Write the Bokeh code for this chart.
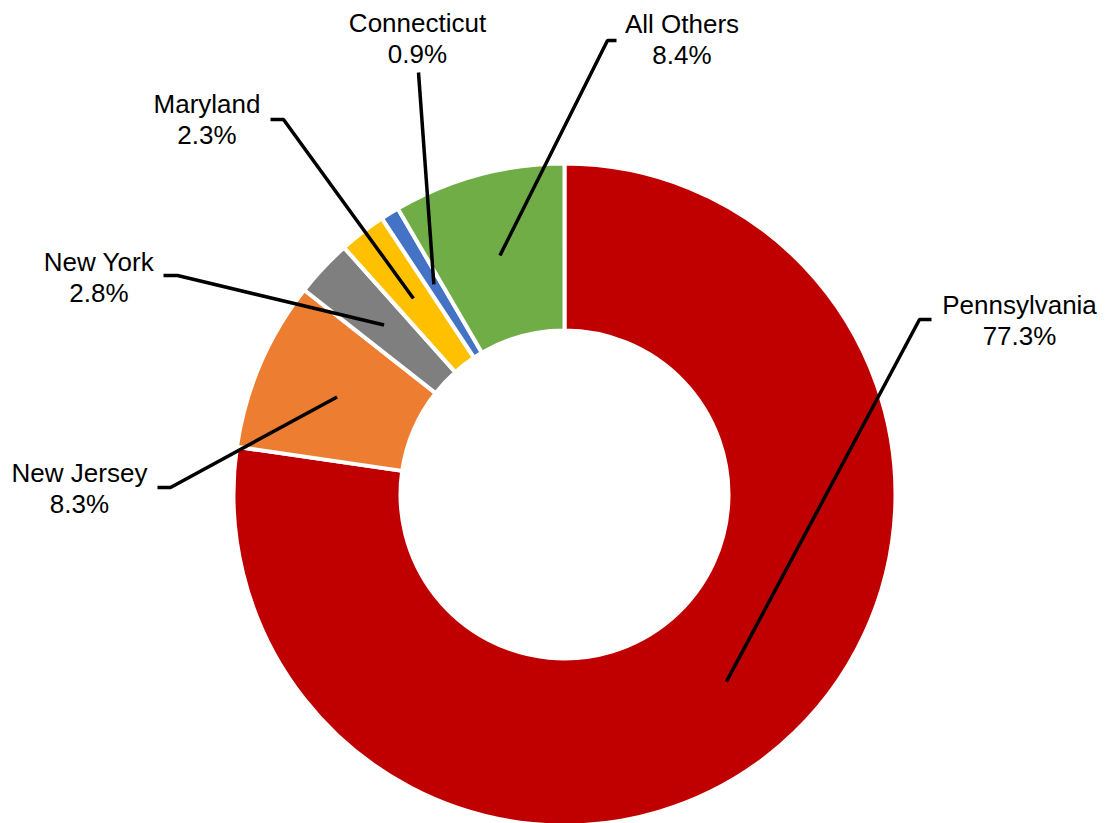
import math
from bokeh.plotting import figure
from bokeh.models import Range1d, ColumnDataSource
from bokeh.core.properties import value
from bokeh.embed import file_html
from bokeh.resources import INLINE

# ---- data ----
states = ["Pennsylvania", "New Jersey", "New York", "Maryland", "Connecticut", "All Others"]
shares = [77.3, 8.3, 2.8, 2.3, 0.9, 8.4]
colors = ["#C00000", "#ED7D31", "#7F7F7F", "#FFC000", "#4472C4", "#70AD47"]

# ---- layout (screen pixel coordinates of the page) ----
W, H = 1106, 823
CX, CY = 564, 494          # donut centre
R_OUT, R_IN = 331, 164
# label centre x, name baseline y, leader elbow (x, y), leader end (x, y)
lab_x = [1019, 79, 98.5, 206.5, 417, 681.5]
lab_y = [304, 472, 261, 103, 22, 23]
elbow = [(919, 319), (170, 487), (177, 275), (283, 119), (418, 72), (607, 40)]
lend = [(931, 319), (157, 487), (163, 275), (270, 119), (418, 72), (616, 40)]
LINE_GAP = 31


def dy(sy):
    return H - sy


p = figure(width=W, height=H, output_backend="svg", toolbar_location=None,
           x_range=Range1d(0, W), y_range=Range1d(0, H),
           min_border=0)
p.axis.visible = False
p.grid.visible = False
p.outline_line_color = None
p.background_fill_color = "white"
p.border_fill_color = "white"

total = sum(shares)
starts, ends, mids = [], [], []
a = 90.0
for s in shares:
    span = s / total * 360.0
    starts.append(math.radians(a))
    ends.append(math.radians(a - span))
    mids.append(math.radians(a - span / 2))
    a -= span

src = ColumnDataSource(dict(start=starts, end=ends, color=colors))
p.annular_wedge(x=CX, y=dy(CY), inner_radius=R_IN, outer_radius=R_OUT,
                start_angle="start", end_angle="end", direction="clock",
                fill_color="color", line_color="white", line_width=4,
                source=src)

# leader lines
r_mid = (R_OUT + R_IN) / 2
xs, ys = [], []
for m, e, t in zip(mids, elbow, lend):
    x0 = CX + r_mid * math.cos(m)
    y0 = CY - r_mid * math.sin(m)
    xs.append([x0, e[0], t[0]])
    ys.append([dy(y0), dy(e[1]), dy(t[1])])
p.multi_line(xs=xs, ys=ys, line_color="black", line_width=3.5)

# labels
names = states
pcts = [f"{s:.1f}%" for s in shares]
p.text(x=lab_x, y=[dy(v) for v in lab_y], text=names,
       text_align="center", text_baseline="alphabetic",
       text_font=value("Liberation Sans"), text_font_size="26px", text_color="black")
p.text(x=lab_x, y=[dy(v + LINE_GAP) for v in lab_y], text=pcts,
       text_align="center", text_baseline="alphabetic",
       text_font=value("Liberation Sans"), text_font_size="26px", text_color="black")

open("out.html", "w").write(file_html(p, INLINE))
